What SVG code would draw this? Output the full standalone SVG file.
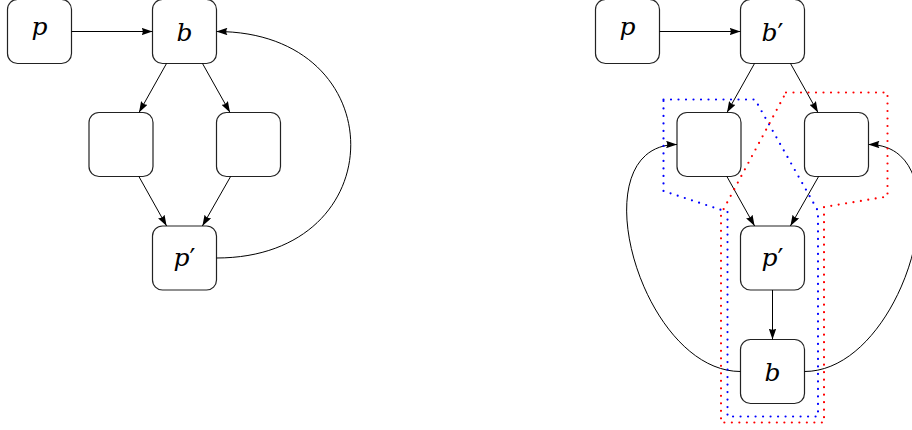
<svg xmlns="http://www.w3.org/2000/svg" width="912" height="430" viewBox="0 0 912 430">
<defs>
<marker id="ah" viewBox="0 0 11 7.5" markerWidth="11" markerHeight="7.5" refX="11" refY="3.75" orient="auto" markerUnits="userSpaceOnUse">
<path d="M0,0 L11,3.75 L0,7.5 Q2.5,3.75 0,0 z" fill="#000"/>
</marker>
</defs>
<style>
.node rect{fill:#fff;stroke:#222;stroke-width:1.2}
.node text{font-family:"DejaVu Serif",serif;font-style:italic;font-size:25px;text-anchor:middle;fill:#000}
.node tspan.pr{font-size:26px;font-style:normal}
.edges path{fill:none;stroke:#000;stroke-width:1;marker-end:url(#ah)}
.region{fill:none;stroke-width:2.2;stroke-dasharray:0 7.5;stroke-linecap:round;stroke-linejoin:round}
</style>
<rect width="912" height="430" fill="#fff"/>
<!-- left diagram -->
<g id="L_p" class="node"><rect x="7.5" y="-0.5" width="64" height="64" rx="10"/><text x="39.5" y="35">p</text></g>
<g id="L_b" class="node"><rect x="152.5" y="-0.5" width="64" height="64" rx="10"/><text x="184.5" y="41">b</text></g>
<g id="L_m1" class="node"><rect x="89" y="112.5" width="64" height="64" rx="10"/></g>
<g id="L_m2" class="node"><rect x="216.5" y="112.5" width="64" height="64" rx="10"/></g>
<g id="L_pp" class="node"><rect x="152.5" y="226" width="64" height="64" rx="10"/><text x="184.5" y="266">p<tspan class="pr" dy="1">′</tspan></text></g>
<!-- right diagram -->
<g id="R_p" class="node"><rect x="595.5" y="-0.5" width="64" height="64" rx="10"/><text x="627.5" y="35">p</text></g>
<g id="R_bp" class="node"><rect x="740.5" y="-0.5" width="64" height="64" rx="10"/><text x="772.5" y="41">b<tspan class="pr" dy="1">′</tspan></text></g>
<g id="R_m1" class="node"><rect x="677" y="112.5" width="64" height="64" rx="10"/></g>
<g id="R_m2" class="node"><rect x="804.5" y="112.5" width="64" height="64" rx="10"/></g>
<g id="R_pp" class="node"><rect x="740.5" y="226" width="64" height="64" rx="10"/><text x="772.5" y="266">p<tspan class="pr" dy="1">′</tspan></text></g>
<g id="R_b" class="node"><rect x="740.5" y="339.5" width="64" height="64" rx="10"/><text x="772.5" y="381">b</text></g>
<g id="edges" class="edges">
<path d="M71.5,31.5 L152.5,31.5"/>
<path d="M166.5,63.5 L139,112.5"/>
<path d="M202.5,63.5 L230,112.5"/>
<path d="M138.9,176.5 L166.6,226"/>
<path d="M230.6,176.5 L202.4,226"/>
<path d="M216.5,258 C395.5,258 395.5,31.5 216.5,31.5"/>
<path d="M659.5,31.5 L740.5,31.5"/>
<path d="M754.5,63.5 L727,112.5"/>
<path d="M790.5,63.5 L818,112.5"/>
<path d="M726.9,176.5 L754.6,226"/>
<path d="M818.6,176.5 L790.4,226"/>
<path d="M772.5,290 L772.5,339.5"/>
<path d="M740.5,371.5 C640.5,371.5 577,144.5 677,144.5"/>
<path d="M804.5,371.5 C904.5,371.5 968.5,144.5 868.5,144.5"/>
</g>
<g id="regions">
<polygon class="region" stroke="#0000ff" points="663.5,99.5 755,99.5 818,211 818,416.5 727.5,416.5 727.5,212 663.5,191"/>
<polygon class="region" stroke="#ff0000" points="786,92.5 887.5,92.5 887.5,196.5 824,207 824,422.5 721,422.5 721,214"/>
</g>
</svg>
